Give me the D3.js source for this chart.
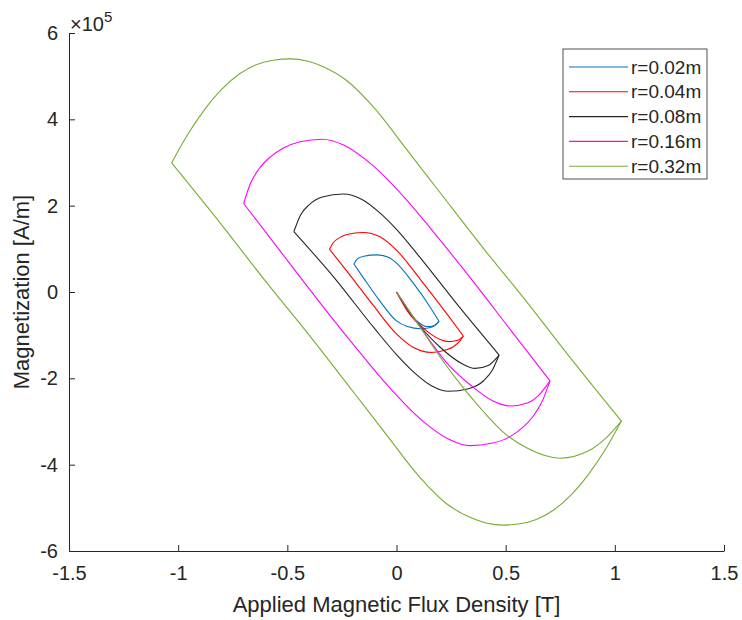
<!DOCTYPE html>
<meta charset="utf-8">
<title>Hysteresis loops</title>
<style>
body { margin: 0; background: #fff; font-family: Arial, "Liberation Sans", Helvetica, sans-serif; }
svg { display: block; }
.axis path, .axis line { stroke: #262626; }
.axis text { fill: #262626; font-size: 20px; font-family: Arial, "Liberation Sans", sans-serif; }
.label { fill: #262626; font-size: 22px; }
.loop { fill: none; stroke-width: 1.1; }
</style>
<body>
<div id="graph"></div>
</body>
<script src="https://cdn.jsdelivr.net/npm/d3@7"></script>
<script>

// tick values / labels
var xTicks = [-1.5, -1, -0.5, 0, 0.5, 1, 1.5],
    yTicks = [-6, -4, -2, 0, 2, 4, 6];

// series names + colours (MATLAB order)
var names  = ['r=0.02m', 'r=0.04m', 'r=0.08m', 'r=0.16m', 'r=0.32m'],
    colors = ['#0072BD', '#FF0000', '#262626', '#FF00FF', '#77AC30'];

// [B (T), M (x1e5 A/m)]
// upper branch: left tip -> max -> right tip ; lower: right tip -> min -> left tip ; init: origin -> right tip
var upper002 = [[-0.195,0.65],[-0.18,0.76],[-0.15,0.83],[-0.09,0.86],[-0.04,0.81],[0,0.67],[0.076,0.21],[0.153,-0.34],[0.195,-0.68]],
    lower002 = [[0.195,-0.68],[0.18,-0.76],[0.15,-0.83],[0.11,-0.85],[0.05,-0.8],[0,-0.67],[-0.076,-0.21],[-0.153,0.34],[-0.195,0.65]],
    init002  = [[0,0],[0.05,-0.4],[0.1,-0.7],[0.14,-0.8],[0.17,-0.78],[0.195,-0.68]];

var upper004 = [[-0.307,0.99],[-0.29,1.14],[-0.26,1.26],[-0.228,1.33],[-0.152,1.38],[-0.076,1.28],[0,0.97],[0.108,0.3],[0.23,-0.5],[0.306,-1.02]],
    lower004 = [[0.306,-1.02],[0.29,-1.14],[0.26,-1.27],[0.228,-1.34],[0.16,-1.4],[0.076,-1.28],[0,-0.97],[-0.108,-0.3],[-0.23,0.5],[-0.307,0.99]],
    init004  = [[0,0],[0.047,-0.42],[0.138,-0.9],[0.2,-1.1],[0.24,-1.15],[0.28,-1.12],[0.306,-1.02]];

var upper008 = [[-0.47,1.4],[-0.44,1.78],[-0.4,2.02],[-0.34,2.2],[-0.244,2.27],[-0.16,2.15],[-0.08,1.85],[0,1.45],[0.1,0.85],[0.28,-0.3],[0.47,-1.46]],
    lower008 = [[0.47,-1.46],[0.44,-1.8],[0.4,-2.05],[0.33,-2.24],[0.24,-2.3],[0.16,-2.17],[0.08,-1.86],[0,-1.45],[-0.1,-0.85],[-0.28,0.3],[-0.47,1.4]],
    init008  = [[0,0],[0.075,-0.58],[0.2,-1.28],[0.3,-1.66],[0.36,-1.77],[0.42,-1.7],[0.47,-1.46]];

var upper016 = [[-0.7,2.05],[-0.67,2.5],[-0.63,2.85],[-0.58,3.12],[-0.52,3.33],[-0.442,3.48],[-0.342,3.54],[-0.24,3.4],[-0.12,2.98],[0.047,2.13],[0.168,1.4],[0.35,0.25],[0.53,-0.93],[0.703,-2.06]],
    lower016 = [[0.703,-2.06],[0.67,-2.5],[0.63,-2.85],[0.58,-3.13],[0.52,-3.35],[0.44,-3.5],[0.336,-3.56],[0.24,-3.41],[0.12,-2.99],[-0.047,-2.13],[-0.168,-1.4],[-0.35,-0.25],[-0.53,0.93],[-0.7,2.05]],
    init016  = [[0,0],[0.1,-0.75],[0.23,-1.64],[0.35,-2.2],[0.44,-2.52],[0.52,-2.64],[0.6,-2.57],[0.65,-2.4],[0.703,-2.06]];

var upper032 = [[-1.03,2.99],[-0.96,3.62],[-0.88,4.22],[-0.8,4.7],[-0.72,5.05],[-0.64,5.27],[-0.565,5.37],[-0.487,5.4],[-0.41,5.35],[-0.336,5.22],[-0.228,4.9],[-0.108,4.3],[0.05,3.28],[0.2,2.3],[0.4,1.0],[0.6,-0.25],[0.8,-1.55],[1.03,-2.99]],
    lower032 = [[1.03,-2.99],[0.96,-3.62],[0.88,-4.22],[0.8,-4.7],[0.72,-5.05],[0.64,-5.27],[0.565,-5.37],[0.487,-5.4],[0.41,-5.35],[0.336,-5.22],[0.228,-4.9],[0.108,-4.3],[-0.05,-3.28],[-0.2,-2.3],[-0.4,-1.0],[-0.6,0.25],[-0.8,1.55],[-1.03,2.99]],
    init032  = [[0,0],[0.1,-0.75],[0.21,-1.58],[0.3,-2.18],[0.4,-2.78],[0.49,-3.25],[0.6,-3.62],[0.75,-3.85],[0.88,-3.68],[0.96,-3.38],[1.03,-2.99]];

var branches = [
  [upper002, lower002, init002],
  [upper004, lower004, init004],
  [upper008, lower008, init008],
  [upper016, lower016, init016],
  [upper032, lower032, init032]
];

var W = 742, H = 620,
    m = {left: 69, right: 18, top: 33, bottom: 69};

var svg = d3.select('#graph').append('svg').attr('width', W).attr('height', H);

var x = d3.scaleLinear().domain([-1.5, 1.5]).range([m.left, W - m.right]),
    y = d3.scaleLinear().domain([-6, 6]).range([H - m.bottom, m.top]);

// axes (ticks pointing inward, MATLAB style)
svg.append('g').attr('class', 'axis')
    .attr('transform', 'translate(0,' + (H - m.bottom) + ')')
    .call(d3.axisBottom(x).tickValues(xTicks).tickFormat(String).tickSizeInner(-6).tickSizeOuter(0).tickPadding(15));

svg.append('g').attr('class', 'axis')
    .attr('transform', 'translate(' + m.left + ',0)')
    .call(d3.axisLeft(y).tickValues(yTicks).tickFormat(String).tickSizeInner(-6).tickSizeOuter(0).tickPadding(11));

// exponent
var ex = svg.append('text').attr('class', 'label').attr('x', 70).attr('y', 31).style('font-size', '20px');
ex.append('tspan').text('\u00d710');
ex.append('tspan').attr('dy', -9).style('font-size', '15px').text('5');

svg.append('text').attr('class', 'label')
    .attr('x', (x(-1.5) + x(1.5)) / 2).attr('y', 612)
    .attr('text-anchor', 'middle')
    .text('Applied Magnetic Flux Density [T]');

svg.append('text').attr('class', 'label')
    .attr('transform', 'translate(29,' + y(0) + ') rotate(-90)')
    .attr('text-anchor', 'middle')
    .text('Magnetization [A/m]');

// loops: every branch is monotone in B, so sort by B and use monotoneX
var line = d3.line()
    .x(function(d){ return x(d[0]) })
    .y(function(d){ return y(d[1]) })
    .curve(d3.curveMonotoneX);

branches.forEach(function(b, i){
  svg.append('g').selectAll('path')
    .data(b).join('path')
      .attr('class', 'loop')
      .attr('stroke', colors[i])
      .attr('d', function(d){ return line(d.slice().sort(function(a, c){ return a[0] - c[0] })) });
});

// legend
var lg = svg.append('g').attr('transform', 'translate(563,49)');
lg.append('rect').attr('width', 144).attr('height', 130)
    .attr('fill', '#fff').attr('stroke', '#262626').attr('stroke-width', 0.8);

var item = lg.selectAll('g.item').data(names).join('g')
    .attr('class', 'item')
    .attr('transform', function(d, i){ return 'translate(0,' + (18 + i * 24.8) + ')' });

item.append('line').attr('x1', 6).attr('x2', 65)
    .attr('stroke', function(d, i){ return colors[i] }).attr('stroke-width', 1.1);

item.append('text').attr('x', 68).attr('dy', '0.35em')
    .style('font-size', '19px').attr('fill', '#262626')
    .text(function(d){ return d });

</script>
